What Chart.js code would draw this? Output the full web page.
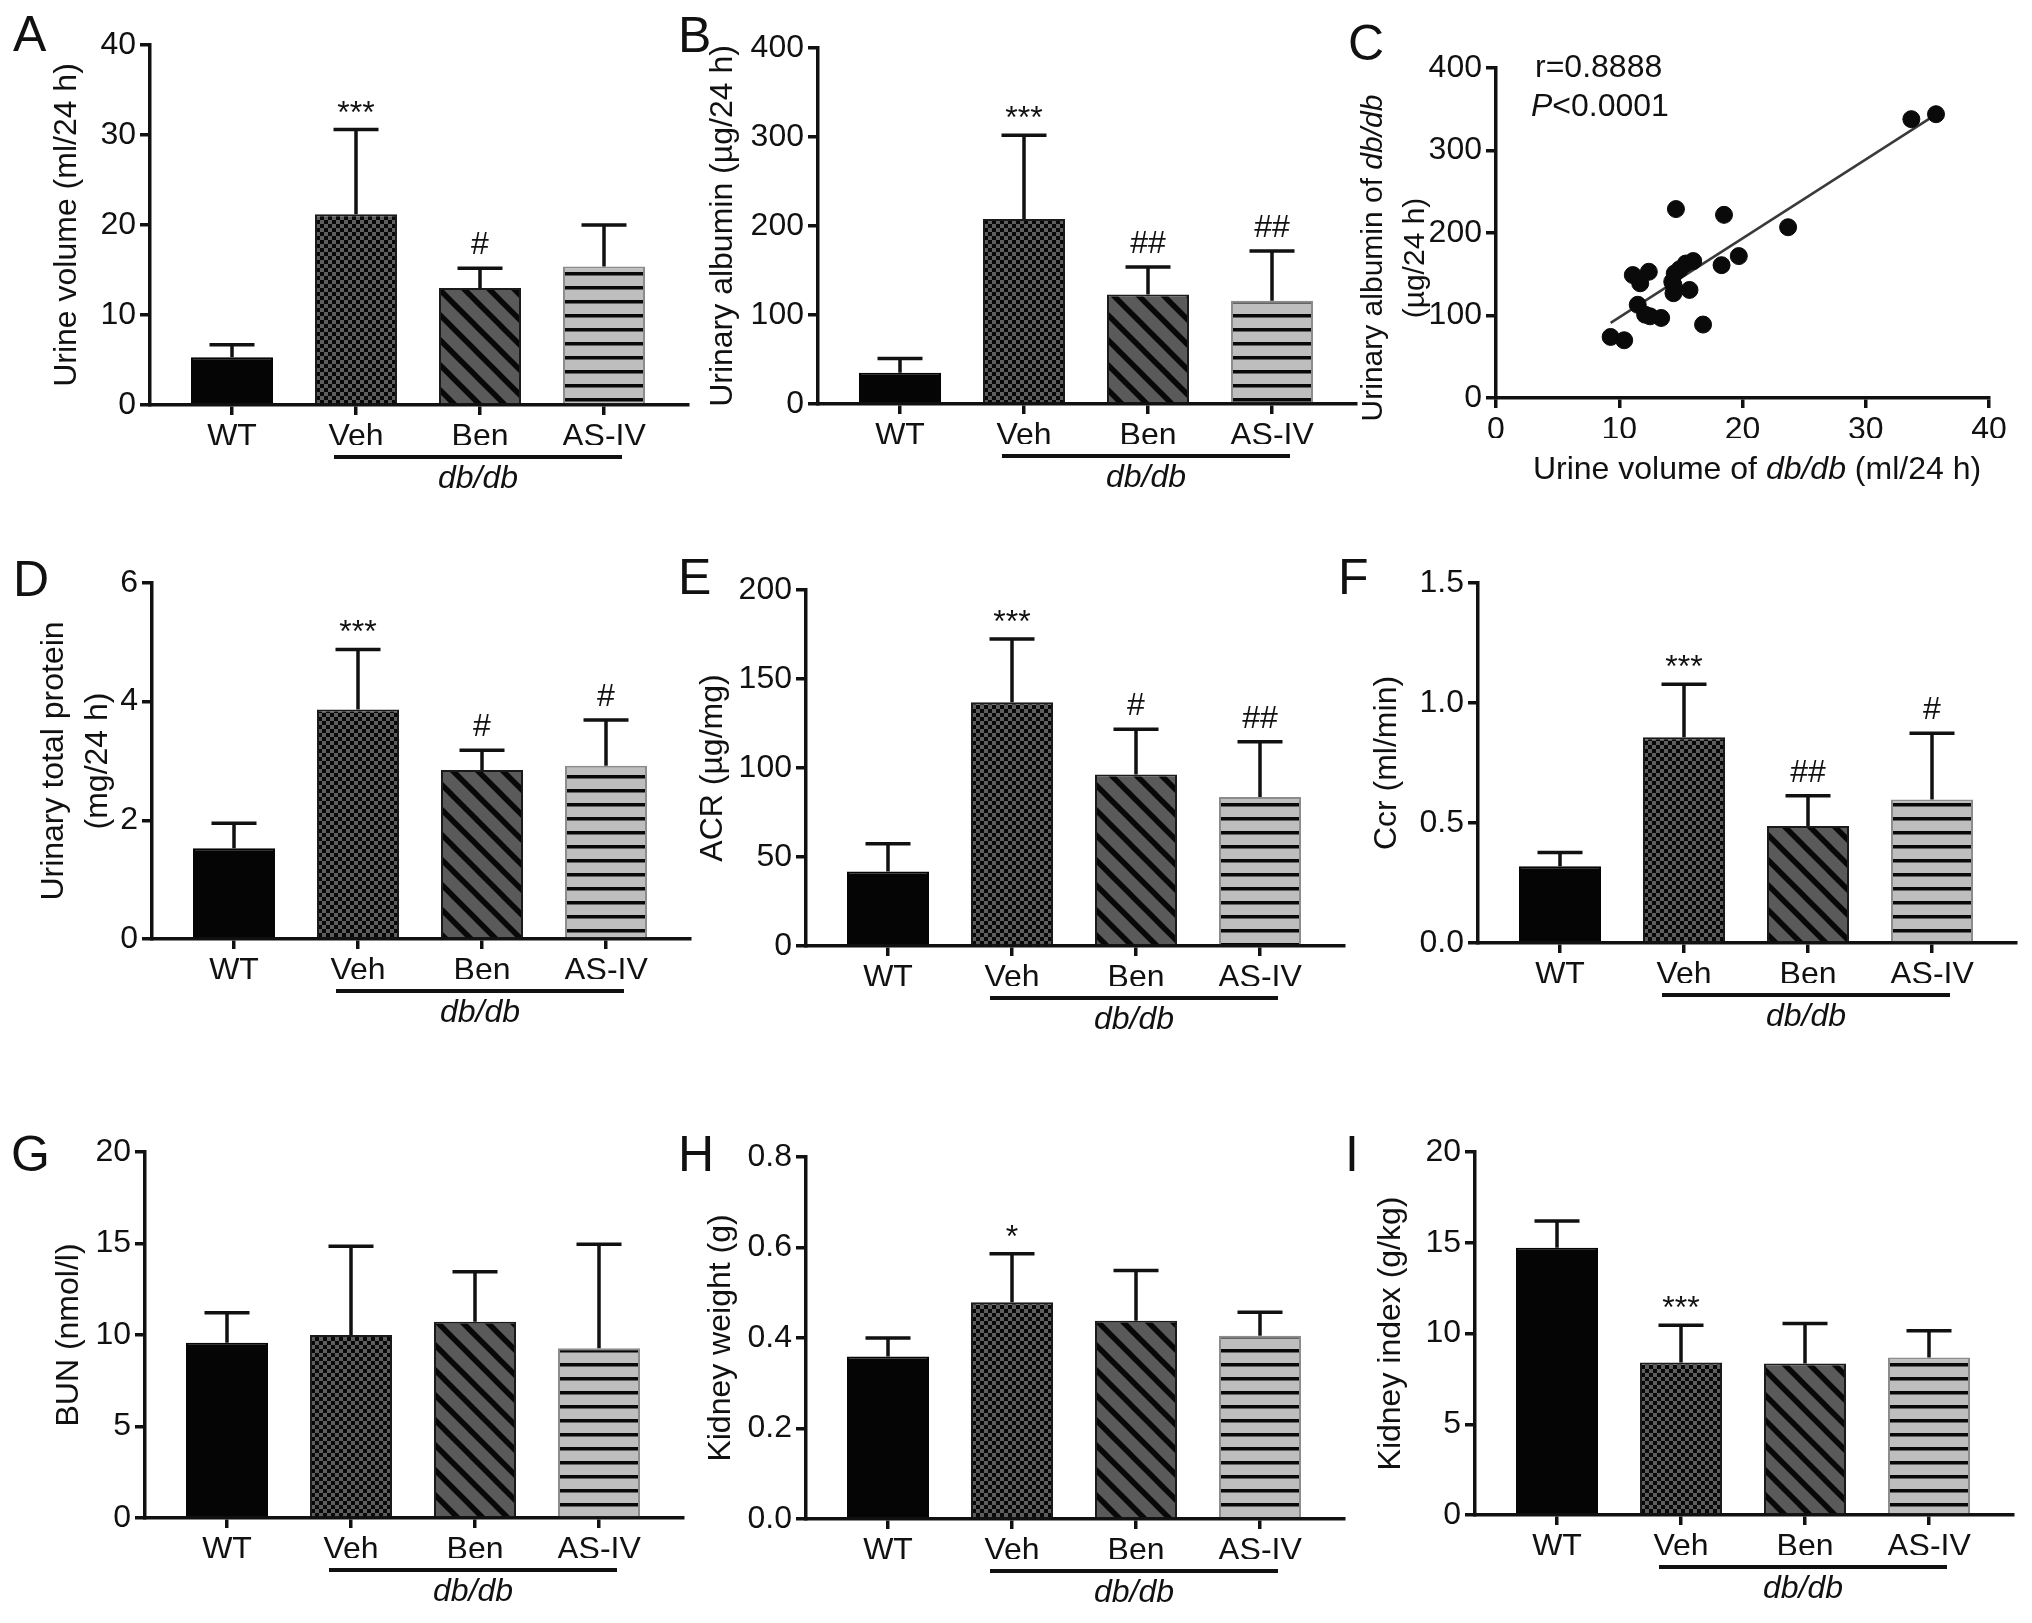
<!DOCTYPE html>
<html>
<head>
<meta charset="utf-8">
<script src="https://cdn.jsdelivr.net/npm/chart.js@4.4.1/dist/chart.umd.min.js"></script>
<style>
    body { margin: 0; background: #fff; }
    #wrap { position: relative; width: 2032px; height: 1623px; overflow: hidden; }
    canvas { position: absolute; }
</style>
</head>
<body>
<div id="wrap"></div>
<script>
const FONT = "'Liberation Sans', Arial, Helvetica, sans-serif";
const INK = '#111';

const groups = ['WT', 'Veh', 'Ben', 'AS-IV'];

// A - urine volume
const urineVol = [5.3, 21.2, 13.0, 15.4];
const urineVolErr = [6.7, 30.6, 15.2, 20.0];
const urineVolSig = ['', '***', '#', ''];
const urineVolTicks = [0, 10, 20, 30, 40];

// B - urinary albumin
const albumin = [35, 208, 123, 116];
const albuminErr = [51, 302, 154, 172];
const albuminSig = ['', '***', '##', '##'];
const albuminTicks = [0, 100, 200, 300, 400];

// C - correlation
const corrX = [9.3, 10.4, 33.7, 35.7, 14.6, 18.5, 23.7, 19.7, 18.3, 11.1, 12.4, 11.7, 11.5,
    12.1, 12.5, 13.4, 16.8, 15.7, 14.4, 14.3, 14.5, 14.9, 15.4, 16.0, 14.4];
const corrY = [74, 70, 338, 344, 229, 222, 207, 172, 161, 149, 153, 139, 113,
    101, 99, 97, 89, 131, 127, 141, 151, 156, 163, 166, 137];
const fitX = [9.3, 35.2];
const fitY = [91, 339];
const corrXTicks = [0, 10, 20, 30, 40];
const corrYTicks = [0, 100, 200, 300, 400];

// D - urinary total protein
const protein = [1.53, 3.87, 2.85, 2.92];
const proteinErr = [1.95, 4.88, 3.18, 3.69];
const proteinSig = ['', '***', '#', '#'];
const proteinTicks = [0, 2, 4, 6];

// E - ACR
const acr = [41.8, 137, 96.3, 83.7];
const acrErr = [57.4, 172.5, 121.7, 114.8];
const acrSig = ['', '***', '#', '##'];
const acrTicks = [0, 50, 100, 150, 200];

// F - Ccr
const ccr = [0.32, 0.857, 0.488, 0.598];
const ccrErr = [0.377, 1.078, 0.614, 0.874];
const ccrSig = ['', '***', '##', '#'];
const ccrTicks = [0, 0.5, 1.0, 1.5];

// G - BUN
const bun = [9.58, 10.0, 10.73, 9.27];
const bunErr = [11.22, 14.85, 13.45, 14.96];
const bunSig = ['', '', '', ''];
const bunTicks = [0, 5, 10, 15, 20];

// H - kidney weight
const kidneyW = [0.359, 0.479, 0.438, 0.405];
const kidneyWErr = [0.40, 0.586, 0.549, 0.457];
const kidneyWSig = ['', '*', '', ''];
const kidneyWTicks = [0, 0.2, 0.4, 0.6, 0.8];

// I - kidney index
const kidneyIdx = [14.72, 8.4, 8.35, 8.68];
const kidneyIdxErr = [16.2, 10.46, 10.55, 10.15];
const kidneyIdxSig = ['', '***', '', ''];
const kidneyIdxTicks = [0, 5, 10, 15, 20];

// layout (page pixels)
const rows = [{ top: 0, h: 545 }, { top: 545, h: 560 }, { top: 1105, h: 518 }];
const AXIS_LEN = 538;
const FIRST = 82;
const STEP = 124;
const Y_BOX = 150;

const panels = [
    { letter: 'A', row: 0, axisX: 150, top: 45, zero: 405, lx: 13, ly: 51,
        title: ['Urine volume (ml/24 h)'], titleX: [67],
        values: urineVol, err: urineVolErr, sig: urineVolSig, ticks: urineVolTicks, digits: 0 },
    { letter: 'B', row: 0, axisX: 818, top: 48, zero: 404, lx: 678, ly: 52,
        title: ['Urinary albumin (µg/24 h)'], titleX: [723],
        values: albumin, err: albuminErr, sig: albuminSig, ticks: albuminTicks, digits: 0 },
    { letter: 'D', row: 1, axisX: 152, top: 583, zero: 939, lx: 13, ly: 596,
        title: ['Urinary total protein', '(mg/24 h)'], titleX: [54, 98],
        values: protein, err: proteinErr, sig: proteinSig, ticks: proteinTicks, digits: 0 },
    { letter: 'E', row: 1, axisX: 806, top: 590, zero: 946, lx: 678, ly: 594,
        title: ['ACR (µg/mg)'], titleX: [713],
        values: acr, err: acrErr, sig: acrSig, ticks: acrTicks, digits: 0 },
    { letter: 'F', row: 1, axisX: 1478, top: 583, zero: 943, lx: 1338, ly: 594,
        title: ['Ccr (ml/min)'], titleX: [1387],
        values: ccr, err: ccrErr, sig: ccrSig, ticks: ccrTicks, digits: 1 },
    { letter: 'G', row: 2, axisX: 145, top: 1152, zero: 1518, lx: 11, ly: 1171,
        title: ['BUN (nmol/l)'], titleX: [69],
        values: bun, err: bunErr, sig: bunSig, ticks: bunTicks, digits: 0 },
    { letter: 'H', row: 2, axisX: 806, top: 1157, zero: 1519, lx: 678, ly: 1171,
        title: ['Kidney weight (g)'], titleX: [721],
        values: kidneyW, err: kidneyWErr, sig: kidneyWSig, ticks: kidneyWTicks, digits: 1 },
    { letter: 'I', row: 2, axisX: 1475, top: 1152, zero: 1515, lx: 1345, ly: 1171,
        title: ['Kidney index (g/kg)'], titleX: [1391],
        values: kidneyIdx, err: kidneyIdxErr, sig: kidneyIdxSig, ticks: kidneyIdxTicks, digits: 0 },
];

Chart.defaults.font.family = FONT;
Chart.defaults.font.size = 32;
Chart.defaults.color = INK;

const font = (size, italic) => `${italic ? 'italic ' : ''}${size}px ${FONT}`;

const makeCanvas = (left, top, width, height) => {
    const c = document.createElement('canvas');
    c.width = width;
    c.height = height;
    c.style.left = `${left}px`;
    c.style.top = `${top}px`;
    document.getElementById('wrap').appendChild(c);
    return c;
};

const makePatterns = (ctx) => {
    const tile = (w, h, draw) => {
        const c = document.createElement('canvas');
        c.width = w;
        c.height = h;
        draw(c.getContext('2d'), w, h);
        return ctx.createPattern(c, 'repeat');
    };
    const checker = tile(8, 8, (g) => {
        g.fillStyle = '#5e5e5e';
        g.fillRect(0, 0, 8, 8);
        g.fillStyle = '#080808';
        g.fillRect(0, 0, 4, 4);
        g.fillRect(4, 4, 4, 4);
    });
    const diag = tile(25, 25, (g, w) => {
        g.fillStyle = '#5a5a5a';
        g.fillRect(0, 0, w, w);
        g.strokeStyle = '#080808';
        g.lineWidth = 5.5;
        g.beginPath();
        [-1, 0, 1].forEach((k) => {
            g.moveTo(k * w - 6, -6);
            g.lineTo(k * w + w + 6, w + 6);
        });
        g.stroke();
    });
    const stripes = tile(4, 14, (g, w) => {
        g.fillStyle = '#bebebe';
        g.fillRect(0, 0, w, 14);
        g.fillStyle = '#080808';
        g.fillRect(0, 6, w, 3.5);
    });
    return ['#050505', checker, diag, stripes];
};

const drawRich = (ctx, parts, x, y, align) => {
    const widths = parts.map(([t, f]) => {
        ctx.font = f;
        return ctx.measureText(t).width;
    });
    const total = widths.reduce((a, b) => a + b, 0);
    let cx = align === 'left' ? x : x - total / 2;
    ctx.textAlign = 'left';
    parts.forEach(([t, f], i) => {
        ctx.font = f;
        ctx.fillText(t, cx, y);
        cx += widths[i];
    });
};

const axisStyle = (tickLength) => ({
    offset: false,
    grid: { display: true, offset: false, drawOnChartArea: false, drawTicks: true, tickLength, color: INK, lineWidth: 3.5 },
    border: { display: true, color: INK, width: 3.5 },
});

const drawBarDecor = (chart, p, cl, ct) => {
    const { ctx, chartArea, scales } = chart;
    const bars = chart.getDatasetMeta(0).data;
    ctx.save();
    ctx.strokeStyle = INK;
    ctx.fillStyle = INK;
    ctx.lineCap = 'butt';

    // error bars + significance
    ctx.lineWidth = 3.5;
    bars.forEach((bar, i) => {
        const yErr = scales.y.getPixelForValue(p.err[i]);
        ctx.beginPath();
        ctx.moveTo(bar.x, bar.y);
        ctx.lineTo(bar.x, yErr);
        ctx.moveTo(bar.x - 22.5, yErr);
        ctx.lineTo(bar.x + 22.5, yErr);
        ctx.stroke();
        const mark = p.sig[i];
        if (mark) {
            ctx.font = font(32);
            ctx.textAlign = 'center';
            ctx.textBaseline = 'alphabetic';
            ctx.fillText(mark, bar.x, yErr + (mark.includes('*') ? -7 : -14));
        }
    });

    // db/db bracket
    const x1 = bars[1].x - 22;
    const x2 = bars[3].x + 18;
    ctx.lineWidth = 4;
    ctx.beginPath();
    ctx.moveTo(x1, chartArea.bottom + 52);
    ctx.lineTo(x2, chartArea.bottom + 52);
    ctx.stroke();
    ctx.font = font(32, true);
    ctx.textAlign = 'center';
    ctx.textBaseline = 'alphabetic';
    ctx.fillText('db/db', (x1 + x2) / 2, chartArea.bottom + 83);

    // panel letter
    ctx.font = font(50);
    ctx.textAlign = 'left';
    ctx.fillText(p.letter, p.lx - cl, p.ly - ct);

    // y title
    const midY = (chartArea.top + chartArea.bottom) / 2;
    ctx.font = font(32);
    ctx.textBaseline = 'middle';
    ctx.textAlign = 'center';
    p.title.forEach((line, j) => {
        ctx.save();
        ctx.translate(p.titleX[j] - cl, midY);
        ctx.rotate(-Math.PI / 2);
        ctx.fillText(line, 0, 0);
        ctx.restore();
    });
    ctx.restore();
};

const makeBarChart = (p) => {
    const row = rows[p.row];
    const cl = p.axisX - Y_BOX;
    const width = Y_BOX + AXIS_LEN + 40;
    const canvas = makeCanvas(cl, row.top, width, row.h);
    const ctx = canvas.getContext('2d');
    const xMin = -FIRST / STEP;
    const xMax = xMin + AXIS_LEN / STEP;

    new Chart(ctx, {
        type: 'bar',
        data: {
            datasets: [{
                data: p.values.map((v, i) => ({ x: i, y: v })),
                backgroundColor: makePatterns(ctx),
                borderColor: ['#050505', '#1a1a1a', '#1a1a1a', '#8c8c8c'],
                borderWidth: 2,
                categoryPercentage: 1,
                barPercentage: 82 / STEP,
            }],
        },
        options: {
            responsive: false,
            animation: false,
            layout: {
                padding: {
                    left: 0,
                    top: p.top - row.top,
                    right: width - Y_BOX - AXIS_LEN,
                    bottom: row.h - (p.zero - row.top) - 40,
                },
            },
            plugins: { legend: { display: false }, tooltip: { enabled: false } },
            scales: {
                x: {
                    type: 'linear',
                    min: xMin,
                    max: xMax,
                    afterBuildTicks: (s) => { s.ticks = groups.map((g, i) => ({ value: i })); },
                    afterFit: (s) => { s.height = 40; },
                    ticks: { callback: (v) => groups[v], autoSkip: false, maxRotation: 0, padding: 3, color: INK },
                    ...axisStyle(10),
                },
                y: {
                    min: p.ticks[0],
                    max: p.ticks[p.ticks.length - 1],
                    afterBuildTicks: (s) => { s.ticks = p.ticks.map((v) => ({ value: v })); },
                    afterFit: (s) => { s.width = Y_BOX; },
                    ticks: { callback: (v) => v.toFixed(p.digits), padding: 4, color: INK },
                    ...axisStyle(10),
                },
            },
        },
        plugins: [{ id: 'decor', afterDraw: (chart) => drawBarDecor(chart, p, cl, row.top) }],
    });
};

const makeScatter = () => {
    const row = rows[0];
    const axisX = 1496;
    const axisLen = 493;
    const top = 68;
    const zero = 398;
    const cl = axisX - Y_BOX;
    const width = 2032 - cl;
    const canvas = makeCanvas(cl, row.top, width, row.h);
    const ctx = canvas.getContext('2d');
    const reg = font(32);
    const ital = font(32, true);
    const regT = font(30);
    const italT = font(30, true);

    new Chart(ctx, {
        type: 'scatter',
        data: {
            datasets: [
                {
                    data: corrX.map((x, i) => ({ x, y: corrY[i] })),
                    backgroundColor: '#0a0a0a',
                    borderColor: '#0a0a0a',
                    pointRadius: 8.5,
                    order: 1,
                },
                {
                    type: 'line',
                    data: fitX.map((x, i) => ({ x, y: fitY[i] })),
                    borderColor: '#3a3a3a',
                    borderWidth: 2.5,
                    pointRadius: 0,
                    showLine: true,
                    order: 2,
                },
            ],
        },
        options: {
            responsive: false,
            animation: false,
            layout: {
                padding: { left: 0, top: top - row.top, right: width - Y_BOX - axisLen, bottom: row.h - (zero - row.top) - 40 },
            },
            plugins: { legend: { display: false }, tooltip: { enabled: false } },
            scales: {
                x: {
                    type: 'linear',
                    min: corrXTicks[0],
                    max: corrXTicks[corrXTicks.length - 1],
                    afterBuildTicks: (s) => { s.ticks = corrXTicks.map((v) => ({ value: v })); },
                    afterFit: (s) => { s.height = 40; },
                    ticks: { padding: 3, color: INK },
                    ...axisStyle(10),
                },
                y: {
                    min: corrYTicks[0],
                    max: corrYTicks[corrYTicks.length - 1],
                    afterBuildTicks: (s) => { s.ticks = corrYTicks.map((v) => ({ value: v })); },
                    afterFit: (s) => { s.width = Y_BOX; },
                    ticks: { padding: 4, color: INK },
                    ...axisStyle(10),
                },
            },
        },
        plugins: [{
            id: 'decor',
            afterDraw: (chart) => {
                const c = chart.ctx;
                c.save();
                c.fillStyle = INK;
                c.textBaseline = 'alphabetic';
                c.font = font(50);
                c.textAlign = 'left';
                c.fillText('C', 1348 - cl, 60);
                c.font = reg;
                c.fillText('r=0.8888', 1535 - cl, 77);
                drawRich(c, [['P', ital], ['<0.0001', reg]], 1531 - cl, 116, 'left');
                drawRich(c, [['Urine volume of ', reg], ['db/db', ital], [' (ml/24 h)', reg]], 1757 - cl, 479);
                c.textBaseline = 'middle';
                [[[['Urinary albumin of ', regT], ['db/db', italT]], 1374], [[['(µg/24 h)', regT]], 1416]]
                    .forEach(([parts, x]) => {
                        c.save();
                        c.translate(x - cl, 258);
                        c.rotate(-Math.PI / 2);
                        drawRich(c, parts, 0, 0);
                        c.restore();
                    });
                c.restore();
            },
        }],
    });
};

panels.forEach(makeBarChart);
makeScatter();
</script>
</body>
</html>
